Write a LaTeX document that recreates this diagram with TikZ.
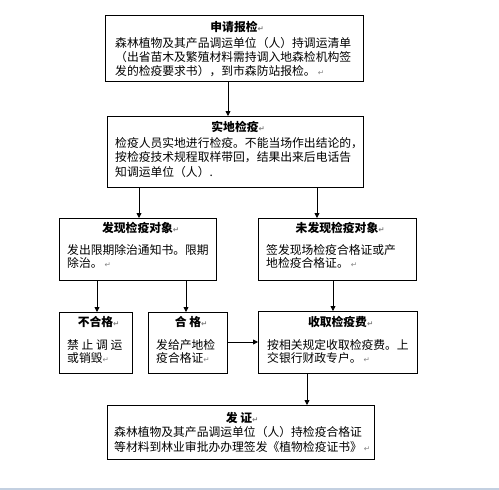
\documentclass[tikz,border=0pt]{standalone}
\usepackage{fontspec}
\setmainfont{Noto Sans CJK SC}
\newfontfamily\symfont{DejaVu Sans}
\usetikzlibrary{arrows.meta}
\newcommand\parmk{{\symfont\color{gray}\fontsize{7.5}{8}\selectfont ↵}}
\definecolor{rulegray}{RGB}{195,208,225}
\tikzset{
  box/.style={draw=black, line width=1.1pt, inner sep=0pt, anchor=north west},
  ttl/.style={inner sep=0pt, anchor=base, font=\fontsize{11.8pt}{14pt}\selectfont\bfseries},
  txt/.style={inner sep=0pt, anchor=base west, font=\fontsize{11.8pt}{14pt}\selectfont},
  arr/.style={draw=black, line width=0.8pt, -{Triangle[length=5pt,width=5pt]}},
  bottomrule/.style={draw=rulegray, line width=1.5pt}
}
\begin{document}
\begin{tikzpicture}[x=1pt,y=-1pt]
\useasboundingbox (0,0) rectangle (499,490);
% boxes
\node[box, minimum width=258pt, minimum height=66pt] (b1) at (105,15) {};
\node[box, minimum width=256pt, minimum height=71pt] (b2) at (107,116) {};
\node[box, minimum width=157pt, minimum height=62pt] (b3) at (59,218) {};
\node[box, minimum width=158pt, minimum height=62pt] (b4) at (258,218) {};
\node[box, minimum width=73pt, minimum height=61pt] (b5) at (59,312) {};
\node[box, minimum width=79pt, minimum height=61pt] (b6) at (148,312) {};
\node[box, minimum width=159pt, minimum height=62pt] (b8) at (258,311) {};
\node[box, minimum width=267pt, minimum height=54pt] (b7) at (107,405) {};
% texts box 1
\node[ttl] (t1) at (234,31.5) {申请报检\rlap{\parmk}};
\node[txt] (d1a) at (115,47.5) {森林植物及其产品调运单位（人）持调运清单};
\node[txt] (d1b) at (115,61.5) {（出省苗木及繁殖材料需持调入地森检机构签};
\node[txt] (d1c) at (115,75) {发的检疫要求书），到市森防站报检。\,\parmk};
% box 2
\node[ttl] (t2) at (235,131.5) {实地检疫\rlap{\parmk}};
\node[txt] (d2a) at (115,147.5) {检疫人员实地进行检疫。不能当场作出结论的，};
\node[txt] (d2b) at (115,161.5) {按检疫技术规程取样带回，结果出来后电话告};
\node[txt] (d2c) at (115,176) {知调运单位（人）.};
% box 3
\node[ttl] (t3) at (137.5,232.5) {发现检疫对象\rlap{\parmk}};
\node[txt] (d3a) at (67,254.5) {发出限期除治通知书。限期};
\node[txt] (d3b) at (67,267.5) {除治。\,\parmk};
% box 4
\node[ttl] (t4) at (337,232.5) {未发现检疫对象\rlap{\parmk}};
\node[txt] (d4a) at (266,254.5) {签发现场检疫合格证或产};
\node[txt] (d4b) at (266,267.5) {地检疫合格证。\,\parmk};
% box 5
\node[ttl] (t5) at (95.5,326.5) {不合格\rlap{\parmk}};
\node[txt] (d5a) at (67,349.5) {禁 止 调 运};
\node[txt] (d5b) at (67,362.5) {或销毁\parmk};
% box 6
\node[ttl] (t6) at (188,326.5) {合 格\rlap{\parmk}};
\node[txt] (d6a) at (156,349.5) {发给产地检};
\node[txt] (d6b) at (156,362.5) {疫合格证\parmk};
% box 8
\node[ttl] (t8) at (337.5,326.5) {收取检疫费\rlap{\parmk}};
\node[txt] (d8a) at (267,349) {按相关规定收取检疫费。上};
\node[txt] (d8b) at (267,362.5) {交银行财政专户。\,\parmk};
% box 7
\node[ttl] (t7) at (239,422.5) {发 证\rlap{\parmk}};
\node[txt] (d7a) at (114,436.5) {森林植物及其产品调运单位（人）持检疫合格证};
\node[txt] (d7b) at (114,451.5) {等材料到林业审批办办理签发《植物检疫证书》\,\parmk};
% connector positions
\coordinate (x1) at (228,0);
\coordinate (x2) at (139,0);
\coordinate (x3) at (317,0);
\coordinate (x4) at (97,0);
\coordinate (x5) at (186,0);
\coordinate (x6) at (333,0);
\coordinate (x7) at (307,0);
\coordinate (y1) at (0,342);
\draw[arr] (b1.south -| x1) -- (b2.north -| x1);
\draw[arr] (b2.south -| x2) -- (b3.north -| x2);
\draw[arr] (b2.south -| x3) -- (b4.north -| x3);
\draw[arr] (b3.south -| x4) -- (b5.north -| x4);
\draw[arr] (b3.south -| x5) -- (b6.north -| x5);
\draw[arr] (b4.south -| x6) -- (b8.north -| x6);
\draw[arr] (b6.east |- y1) -- (b8.west |- y1);
\draw[arr] (b8.south -| x7) -- (b7.north -| x7);
% bottom rule
\coordinate (r0) at (0,489);
\coordinate (r1) at (499,489);
\draw[bottomrule] (r0) -- (r1);
\end{tikzpicture}
\end{document}
